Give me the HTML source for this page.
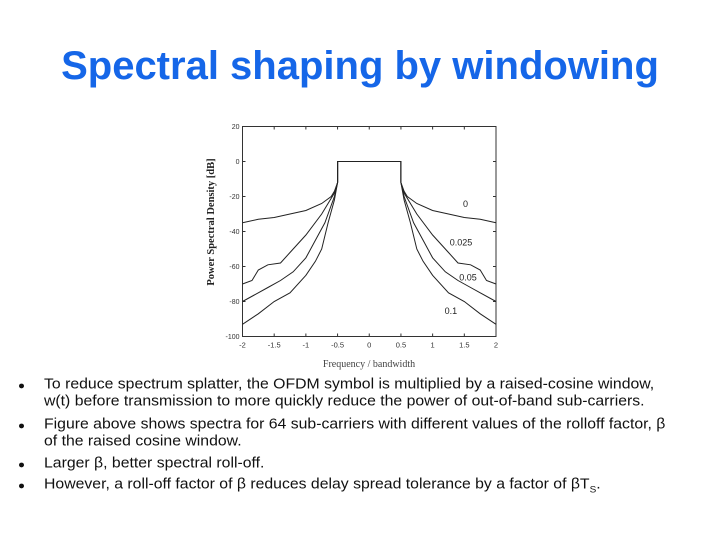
<!DOCTYPE html>
<html><head><meta charset="utf-8"><style>
body{margin:0;background:#fff;}
#root{position:relative;width:720px;height:540px;overflow:hidden;background:#fff;font-family:"Liberation Sans",Arial,sans-serif;}
h1{position:absolute;left:0;width:720px;top:44px;margin:0;text-align:center;font-size:40px;font-weight:bold;color:#1566e8;}
.b{position:absolute;left:44px;font-size:15.8px;color:#111;line-height:18px;width:680px;transform:scaleY(0.95);transform-origin:0 0;}
.dot{position:absolute;left:-25px;top:8px;width:5px;height:5px;border-radius:50%;background:#111;}
</style></head><body>
<div id="root">
<h1>Spectral shaping by windowing</h1>
<svg id="chart" width="720" height="540" style="position:absolute;left:0;top:0"></svg>
<div class="b" style="top:376px"><span class="dot"></span>To reduce spectrum splatter, the OFDM symbol is multiplied by a raised-cosine window,<br>w(t) before transmission to more quickly reduce the power of out-of-band sub-carriers.</div>
<div class="b" style="top:416px"><span class="dot"></span>Figure above shows spectra for 64 sub-carriers with different values of the rolloff factor, β<br>of the raised cosine window.</div>
<div class="b" style="top:455px"><span class="dot"></span>Larger β, better spectral roll-off.</div>
<div class="b" style="top:476px"><span class="dot"></span>However, a roll-off factor of β reduces delay spread tolerance by a factor of βT<sub style="font-size:10px">S</sub>.</div>
</div>
<script>
const xTicks=[-2,-1.5,-1,-0.5,0,0.5,1,1.5,2];
const xTickLabels=["-2","-1.5","-1","-0.5","0","0.5","1","1.5","2"];
const yTicks=[20,0,-20,-40,-60,-80,-100];
const seriesNames=["0","0.025","0.05","0.1"];
const freqs0=[0.5,0.55,0.6,0.75,1,1.25,1.5,1.75,2];
const psd0=[-12,-17,-20,-24,-28,-30,-32,-33,-35];
const freqs1=[0.5,0.55,0.75,1,1.25,1.4,1.6,1.75,1.85,2];
const psd1=[-12,-18,-30,-42,-52,-58,-59,-62,-68,-70];
const freqs2=[0.5,0.55,0.7,0.85,1,1.2,1.4,1.6,1.75,2];
const psd2=[-12,-20,-35,-45,-55,-63,-68,-72,-75,-80];
const freqs3=[0.5,0.55,0.65,0.75,0.85,1,1.25,1.5,1.75,2];
const psd3=[-12,-22,-35,-50,-57,-65,-75,-80,-87,-93];
const labelPos=[[1.48,-26],[1.27,-48],[1.42,-68],[1.19,-87]];
const NS="http://www.w3.org/2000/svg";
const svg=document.getElementById('chart');
const L=242.5,R=496,T=126.5,B=336.5;
const sx=v=>L+(v+2)/4*(R-L), sy=v=>T+(20-v)/120*(B-T);
function mk(t,a){const e=document.createElementNS(NS,t);for(const k in a)e.setAttribute(k,a[k]);svg.appendChild(e);return e;}
let fr=mk('rect',{x:L,y:T,width:R-L,height:B-T,fill:'none',stroke:'#333','stroke-width':1});


xTicks.forEach((t,i)=>{
  mk('line',{x1:sx(t),x2:sx(t),y1:B,y2:B-3,stroke:'#333'});
  mk('line',{x1:sx(t),x2:sx(t),y1:T,y2:T+3,stroke:'#333'});
  const tx=mk('text',{x:sx(t),y:B+11,'font-size':7.5,'text-anchor':'middle',fill:'#333','font-family':'Liberation Sans, sans-serif'});
  tx.textContent=xTickLabels[i];
  
  
});
yTicks.forEach(t=>{
  mk('line',{x1:L,x2:L+3,y1:sy(t),y2:sy(t),stroke:'#333'});
  mk('line',{x1:R,x2:R-3,y1:sy(t),y2:sy(t),stroke:'#333'});
  const tx=mk('text',{x:L-3,y:sy(t)+2.5,'font-size':7,'text-anchor':'end',fill:'#333','font-family':'Liberation Sans, sans-serif'});
  tx.textContent=String(t);
  
  
});
const series=[[freqs0,psd0],[freqs1,psd1],[freqs2,psd2],[freqs3,psd3]];
series.forEach(([f,p],i)=>{
  const pts=[];
  for(let j=f.length-1;j>=0;j--)pts.push([-f[j],p[j]]);
  pts.push([-0.5,0],[0.5,0]);
  for(let j=0;j<f.length;j++)pts.push([f[j],p[j]]);
  const d=pts.map((q,k)=>(k?'L':'M')+sx(q[0]).toFixed(1)+','+sy(q[1]).toFixed(1)).join('');
  const pa=mk('path',{d:d,fill:'none',stroke:'#222','stroke-width':1});
  
  
  const lb=mk('text',{x:sx(labelPos[i][0]),y:sy(labelPos[i][1]),'font-size':9,fill:'#222','font-family':'Liberation Sans, sans-serif'});
  lb.textContent=seriesNames[i];
  
  
});
const xl=mk('text',{x:369,y:367,'font-size':10,'text-anchor':'middle',fill:'#444','font-family':'Liberation Serif, serif'});
xl.textContent='Frequency / bandwidth';


const yl=mk('text',{x:0,y:0,'font-size':10.5,'font-weight':'bold','text-anchor':'middle',fill:'#222','font-family':'Liberation Serif, serif',transform:'translate(214,222) rotate(-90)'});
yl.textContent='Power Spectral Density [dB]';


</script>
</body></html>
